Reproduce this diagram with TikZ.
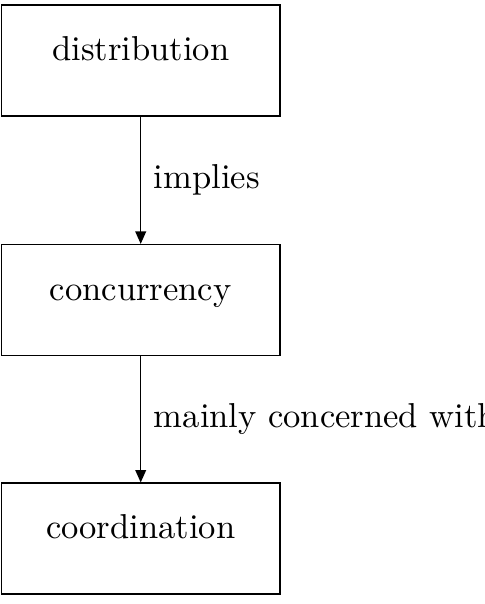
\documentclass[tikz,border=0pt]{standalone}
\usetikzlibrary{arrows.meta}
\begin{document}
\begin{tikzpicture}[x=1pt,y=1pt,
  box/.style={draw, minimum width=80.6pt, minimum height=32.1pt, text height=0pt, text depth=0pt, inner sep=0pt},
  conn/.style={-{Triangle[length=3.6pt,width=3.1pt]}}]
\clip (0,0) rectangle (140,-174.7);
\node[box] (a) at (40.7,-17.5) {distribution};
\node[box] (b) at (40.7,-86.8) {concurrency};
\node[box] (c) at (40.7,-155.8) {coordination};
\draw[conn] (a) -- node[midway,right,xshift=0.3pt] {implies} (b);
\draw[conn] (b) -- node[midway,right,xshift=0.3pt] {mainly concerned with} (c);
\end{tikzpicture}
\end{document}
